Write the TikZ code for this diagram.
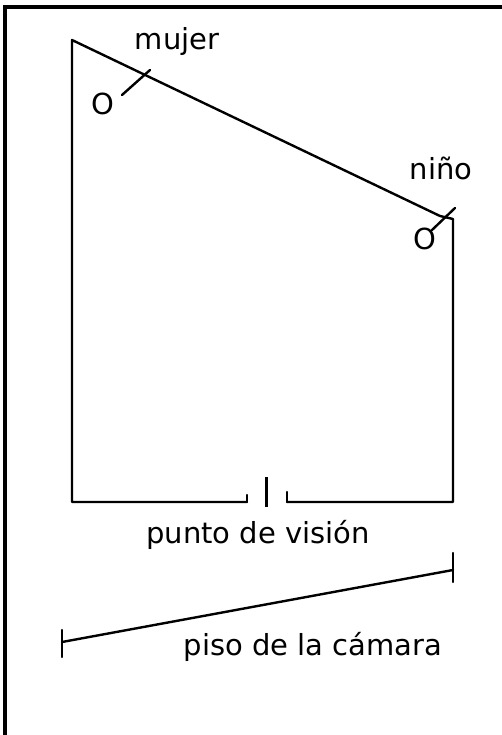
\documentclass[tikz,border=0pt]{standalone}
\usepackage{fontspec}
\setmainfont{DejaVu Sans}
\begin{document}
\begin{tikzpicture}[x=1pt,y=-1pt,
  ln/.style={line width=2.4pt,line cap=round,line join=round},
  lbl/.style={font=\fontsize{29}{32}\selectfont,inner sep=0pt,anchor=base}]
\useasboundingbox (0,0) rectangle (501,735);
% frame
\draw[line width=3.2pt] (5,736) -- (5,7) -- (502,7);
% room corners
\coordinate (tl) at (72,40);
\coordinate (bl) at (72,502);
\coordinate (dr) at (440,216);
\coordinate (tr) at (453,219);
\coordinate (br) at (453,502);
\coordinate (g1) at (247,502);
\coordinate (g2) at (287,502);
\draw[ln] (g1) -- (bl) -- (tl) -- (dr) -- (tr) -- (br) -- (g2);
\draw[ln] (g1) -- ++(0,-7);
\draw[ln] (g2) -- ++(0,-10);
\coordinate (v1) at (266,477);
\coordinate (v2) at (266,507);
\draw[line width=3pt] (v1) -- (v2);
\node[lbl] (pv) at (258,543) {punto de visión};
% camera floor
\coordinate (f1) at (62,642);
\coordinate (f2) at (453,570);
\draw[ln] (f1) -- (f2);
\draw[ln] (62,630) -- (62,657);
\draw[ln] (453,553) -- (453,582);
\node[lbl] (pc) at (313,655) {piso de la cámara};
% woman
\node[lbl] (mj) at (177,50) {mujer};
\node[lbl] (mo) at (103,115) {O};
\coordinate (m1) at (122,95);
\coordinate (m2) at (150,70);
\draw[ln] (m1) -- (m2);
% child
\node[lbl] (nn) at (441,180) {niño};
\node[lbl] (no) at (425,249) {O};
\coordinate (n1) at (432,230);
\coordinate (n2) at (455,208);
\draw[ln] (n1) -- (n2);
\end{tikzpicture}
\end{document}
